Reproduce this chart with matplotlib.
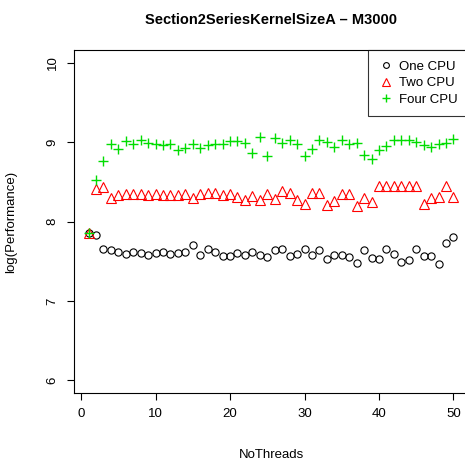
import numpy as np
from matplotlib import pyplot as plt

plt.rcParams['font.family'] = ['Liberation Sans', 'DejaVu Sans']

threads = list(range(1, 51))

one_cpu = [7.85, 7.83, 7.65, 7.64, 7.62, 7.59, 7.62, 7.60, 7.58, 7.60,
           7.62, 7.59, 7.60, 7.62, 7.70, 7.575, 7.65, 7.62, 7.56, 7.57,
           7.60, 7.575, 7.62, 7.58, 7.55, 7.64, 7.65, 7.56, 7.59, 7.65,
           7.58, 7.64, 7.53, 7.575, 7.575, 7.555, 7.475, 7.64, 7.54, 7.53,
           7.65, 7.59, 7.49, 7.51, 7.65, 7.57, 7.56, 7.47, 7.725, 7.81]

two_cpu = [7.85, 8.41, 8.43, 8.30, 8.34, 8.35, 8.345, 8.345, 8.33, 8.345,
           8.33, 8.33, 8.34, 8.35, 8.29, 8.345, 8.36, 8.36, 8.33, 8.345,
           8.31, 8.27, 8.32, 8.27, 8.35, 8.28, 8.39, 8.36, 8.27, 8.225,
           8.355, 8.355, 8.21, 8.26, 8.35, 8.345, 8.19, 8.29, 8.24, 8.45,
           8.45, 8.45, 8.45, 8.45, 8.45, 8.215, 8.29, 8.31, 8.45, 8.31]

four_cpu = [7.85, 8.52, 8.76, 8.98, 8.91, 9.02, 8.98, 9.03, 8.99, 8.98,
            8.96, 8.98, 8.90, 8.92, 8.98, 8.92, 8.96, 8.98, 8.97, 9.02,
            9.02, 8.99, 8.86, 9.06, 8.83, 9.055, 8.99, 9.03, 8.98, 8.82,
            8.91, 9.03, 9.00, 8.94, 9.03, 8.97, 8.99, 8.84, 8.79, 8.90,
            8.95, 9.03, 9.03, 9.03, 9.00, 8.96, 8.94, 8.97, 8.99, 9.04]

W, H = 465, 461
fig = plt.figure(figsize=(W / 100, H / 100), dpi=100)
# axes box in pixels (R style plot region)
left, right, top, bottom = 74, 468, 50, 393
ax = fig.add_axes([left / W, (H - bottom) / H, (right - left) / W, (bottom - top) / H])

green = '#00DD00'
ax.plot(threads, one_cpu, 'o', mfc='none', mec='black', ms=5.2, mew=0.8, label='One CPU')
ax.plot(threads, two_cpu, '^', mfc='none', mec='red', ms=6.5, mew=0.8, label='Two CPU')
ax.plot(threads, four_cpu, '+', color=green, ms=7.5, mew=1.0, label='Four CPU')

ax.set_xlim(-0.96, 51.96)
ax.set_ylim(5.84, 10.16)
ax.set_xticks([0, 10, 20, 30, 40, 50])
ax.set_yticks([6, 7, 8, 9, 10])
ax.tick_params(direction='out', length=5, width=0.8, labelsize=9.5, pad=6)
for lab in ax.get_yticklabels():
    lab.set_rotation(90)
    lab.set_va('center')
for s in ax.spines.values():
    s.set_linewidth(0.8)

ax.set_xlabel('NoThreads', fontsize=9.5, labelpad=21)
ax.set_ylabel('log(Performance)', fontsize=9.5, labelpad=21)
ax.set_title('Section2SeriesKernelSizeA \u2013 M3000', fontsize=10.5, fontweight='bold', pad=19)

leg = ax.legend(loc='upper right', fontsize=9.5, frameon=True, fancybox=False,
                edgecolor='black', borderaxespad=0, handletextpad=0.5,
                labelspacing=0.32, borderpad=0.8, handlelength=1.0, markerscale=0.8)
leg.get_frame().set_linewidth(0.8)

fig.savefig('out.png', dpi=100)
